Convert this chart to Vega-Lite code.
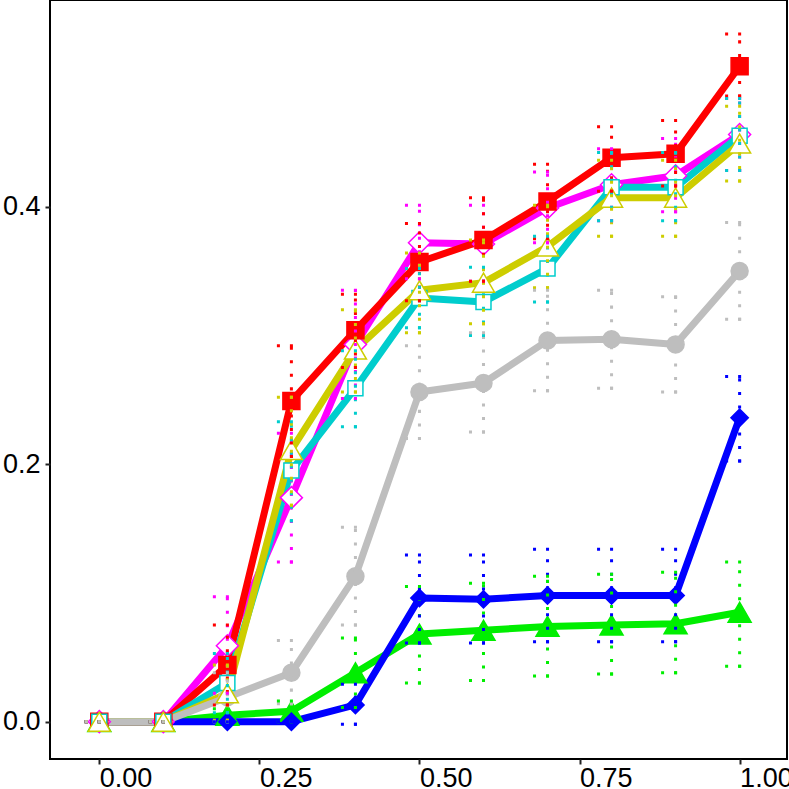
{
  "$schema": "https://vega.github.io/schema/vega-lite/v6.json",
  "description": "Seven series with dotted error bars, recreated from the reference.",
  "autosize": {"type": "none"},
  "width": 737,
  "height": 759,
  "padding": {"left": 50, "top": 0, "right": 2, "bottom": 30},
  "background": "white",
  "config": {
    "view": {"stroke": "black", "strokeWidth": 2},
    "axis": {
      "domain": false,
      "grid": false,
      "title": null,
      "labelFont": "Liberation Sans",
      "labelFontSize": 27,
      "labelColor": "black",
      "tickColor": "#222222",
      "tickSize": 5,
      "tickWidth": 2
    }
  },
  "data": {
    "values": [
      {"s": "green", "x": 0.0, "y": 0.0, "lo": 0.0, "hi": 0.0},
      {"s": "green", "x": 0.1, "y": 0.0, "lo": 0.0, "hi": 0.0},
      {"s": "green", "x": 0.2, "y": 0.005, "lo": 0.0, "hi": 0.010},
      {"s": "green", "x": 0.3, "y": 0.008, "lo": 0.0, "hi": 0.016},
      {"s": "green", "x": 0.4, "y": 0.038, "lo": 0.011, "hi": 0.065},
      {"s": "green", "x": 0.5, "y": 0.068, "lo": 0.030, "hi": 0.105},
      {"s": "green", "x": 0.6, "y": 0.071, "lo": 0.032, "hi": 0.1075},
      {"s": "green", "x": 0.7, "y": 0.074, "lo": 0.0355, "hi": 0.113},
      {"s": "green", "x": 0.8, "y": 0.075, "lo": 0.037, "hi": 0.1145},
      {"s": "green", "x": 0.9, "y": 0.076, "lo": 0.038, "hi": 0.116},
      {"s": "green", "x": 1.0, "y": 0.085, "lo": 0.043, "hi": 0.124},

      {"s": "blue", "x": 0.0, "y": 0.0, "lo": 0.0, "hi": 0.0},
      {"s": "blue", "x": 0.1, "y": 0.0, "lo": 0.0, "hi": 0.0},
      {"s": "blue", "x": 0.2, "y": 0.0, "lo": 0.0, "hi": 0.0},
      {"s": "blue", "x": 0.3, "y": 0.0, "lo": 0.0, "hi": 0.0},
      {"s": "blue", "x": 0.4, "y": 0.013, "lo": -0.002, "hi": 0.029},
      {"s": "blue", "x": 0.5, "y": 0.096, "lo": 0.061, "hi": 0.1295},
      {"s": "blue", "x": 0.6, "y": 0.095, "lo": 0.061, "hi": 0.1295},
      {"s": "blue", "x": 0.7, "y": 0.098, "lo": 0.062, "hi": 0.134},
      {"s": "blue", "x": 0.8, "y": 0.098, "lo": 0.062, "hi": 0.134},
      {"s": "blue", "x": 0.9, "y": 0.098, "lo": 0.062, "hi": 0.134},
      {"s": "blue", "x": 1.0, "y": 0.236, "lo": 0.2025, "hi": 0.268},

      {"s": "magenta", "x": 0.0, "y": 0.0, "lo": 0.0, "hi": 0.0},
      {"s": "magenta", "x": 0.1, "y": 0.0, "lo": 0.0, "hi": 0.0},
      {"s": "magenta", "x": 0.2, "y": 0.059, "lo": 0.022, "hi": 0.097},
      {"s": "magenta", "x": 0.3, "y": 0.174, "lo": 0.124, "hi": 0.224},
      {"s": "magenta", "x": 0.4, "y": 0.293, "lo": 0.251, "hi": 0.335},
      {"s": "magenta", "x": 0.5, "y": 0.372, "lo": 0.344, "hi": 0.401},
      {"s": "magenta", "x": 0.6, "y": 0.371, "lo": 0.342, "hi": 0.401},
      {"s": "magenta", "x": 0.7, "y": 0.399, "lo": 0.372, "hi": 0.427},
      {"s": "magenta", "x": 0.8, "y": 0.417, "lo": 0.389, "hi": 0.445},
      {"s": "magenta", "x": 0.9, "y": 0.424, "lo": 0.396, "hi": 0.453},
      {"s": "magenta", "x": 1.0, "y": 0.456, "lo": 0.428, "hi": 0.484},

      {"s": "red", "x": 0.0, "y": 0.0, "lo": 0.0, "hi": 0.0},
      {"s": "red", "x": 0.1, "y": 0.0, "lo": 0.0, "hi": 0.0},
      {"s": "red", "x": 0.2, "y": 0.044, "lo": 0.013, "hi": 0.075},
      {"s": "red", "x": 0.3, "y": 0.249, "lo": 0.206, "hi": 0.292},
      {"s": "red", "x": 0.4, "y": 0.304, "lo": 0.275, "hi": 0.332},
      {"s": "red", "x": 0.5, "y": 0.357, "lo": 0.327, "hi": 0.387},
      {"s": "red", "x": 0.6, "y": 0.374, "lo": 0.342, "hi": 0.407},
      {"s": "red", "x": 0.7, "y": 0.404, "lo": 0.375, "hi": 0.433},
      {"s": "red", "x": 0.8, "y": 0.438, "lo": 0.412, "hi": 0.462},
      {"s": "red", "x": 0.9, "y": 0.441, "lo": 0.416, "hi": 0.467},
      {"s": "red", "x": 1.0, "y": 0.509, "lo": 0.486, "hi": 0.534},

      {"s": "cyan", "x": 0.0, "y": 0.0, "lo": 0.0, "hi": 0.0},
      {"s": "cyan", "x": 0.1, "y": 0.0, "lo": 0.0, "hi": 0.0},
      {"s": "cyan", "x": 0.2, "y": 0.030, "lo": 0.007, "hi": 0.053},
      {"s": "cyan", "x": 0.3, "y": 0.195, "lo": 0.156, "hi": 0.233},
      {"s": "cyan", "x": 0.4, "y": 0.259, "lo": 0.229, "hi": 0.288},
      {"s": "cyan", "x": 0.5, "y": 0.329, "lo": 0.306, "hi": 0.352},
      {"s": "cyan", "x": 0.6, "y": 0.326, "lo": 0.300, "hi": 0.353},
      {"s": "cyan", "x": 0.7, "y": 0.352, "lo": 0.326, "hi": 0.377},
      {"s": "cyan", "x": 0.8, "y": 0.415, "lo": 0.389, "hi": 0.442},
      {"s": "cyan", "x": 0.9, "y": 0.415, "lo": 0.389, "hi": 0.442},
      {"s": "cyan", "x": 1.0, "y": 0.455, "lo": 0.428, "hi": 0.484},

      {"s": "yellow", "x": 0.0, "y": 0.0, "lo": 0.0, "hi": 0.0},
      {"s": "yellow", "x": 0.1, "y": 0.0, "lo": 0.0, "hi": 0.0},
      {"s": "yellow", "x": 0.2, "y": 0.022, "lo": 0.001, "hi": 0.044},
      {"s": "yellow", "x": 0.3, "y": 0.211, "lo": 0.168, "hi": 0.252},
      {"s": "yellow", "x": 0.4, "y": 0.289, "lo": 0.256, "hi": 0.320},
      {"s": "yellow", "x": 0.5, "y": 0.335, "lo": 0.302, "hi": 0.364},
      {"s": "yellow", "x": 0.6, "y": 0.341, "lo": 0.309, "hi": 0.374},
      {"s": "yellow", "x": 0.7, "y": 0.369, "lo": 0.337, "hi": 0.401},
      {"s": "yellow", "x": 0.8, "y": 0.407, "lo": 0.377, "hi": 0.436},
      {"s": "yellow", "x": 0.9, "y": 0.407, "lo": 0.377, "hi": 0.436},
      {"s": "yellow", "x": 1.0, "y": 0.449, "lo": 0.420, "hi": 0.478},

      {"s": "gray", "x": 0.0, "y": 0.0, "lo": 0.0, "hi": 0.0},
      {"s": "gray", "x": 0.1, "y": 0.0, "lo": 0.0, "hi": 0.0},
      {"s": "gray", "x": 0.2, "y": 0.019, "lo": 0.0, "hi": 0.038},
      {"s": "gray", "x": 0.3, "y": 0.038, "lo": 0.014, "hi": 0.063},
      {"s": "gray", "x": 0.4, "y": 0.113, "lo": 0.075, "hi": 0.151},
      {"s": "gray", "x": 0.5, "y": 0.256, "lo": 0.220, "hi": 0.292},
      {"s": "gray", "x": 0.6, "y": 0.263, "lo": 0.225, "hi": 0.302},
      {"s": "gray", "x": 0.7, "y": 0.296, "lo": 0.257, "hi": 0.335},
      {"s": "gray", "x": 0.8, "y": 0.297, "lo": 0.259, "hi": 0.335},
      {"s": "gray", "x": 0.9, "y": 0.293, "lo": 0.256, "hi": 0.330},
      {"s": "gray", "x": 1.0, "y": 0.350, "lo": 0.3125, "hi": 0.3876}
    ]
  },
  "encoding": {
    "x": {
      "field": "x",
      "type": "quantitative",
      "scale": {"domain": [-0.077, 1.074], "nice": false, "zero": false},
      "axis": {"values": [0, 0.25, 0.5, 0.75, 1], "format": ".2f", "labelAlign": "left", "labelPadding": 1}
    },
    "stroke": {
      "field": "s",
      "type": "nominal",
      "scale": {
        "domain": ["gray", "green", "blue", "magenta", "yellow", "cyan", "red"],
        "range": ["#BEBEBE", "#00EE00", "#0000FF", "#FF00FF", "#CDCD00", "#00CDCD", "#FF0000"]
      },
      "legend": null
    },
    "fill": {
      "field": "s",
      "type": "nominal",
      "scale": {
        "domain": ["gray", "green", "blue", "magenta", "yellow", "cyan", "red"],
        "range": ["#BEBEBE", "#00EE00", "#0000FF", "#FFFFFF", "#FFFFFF", "#FFFFFF", "#FF0000"]
      },
      "legend": null
    },
    "shape": {
      "field": "s",
      "type": "nominal",
      "scale": {
        "domain": ["gray", "green", "blue", "magenta", "yellow", "cyan", "red"],
        "range": ["circle", "triangle-up", "diamond", "diamond", "triangle-up", "square", "square"]
      },
      "legend": null
    },
    "size": {
      "field": "s",
      "type": "nominal",
      "scale": {
        "type": "ordinal",
        "domain": ["gray", "green", "blue", "magenta", "yellow", "cyan", "red"],
        "range": [289, 529, 300, 484, 484, 225, 289]
      },
      "legend": null
    }
  },
  "layer": [
    {
      "mark": {"type": "line", "strokeWidth": 7, "strokeJoin": "round"},
      "encoding": {
        "y": {
          "field": "y",
          "type": "quantitative",
          "scale": {"domain": [-0.029, 0.5605], "nice": false, "zero": false},
          "axis": {"values": [0, 0.2, 0.4], "format": ".1f", "labelPadding": 5}
        },
        "fill": null,
        "shape": null,
        "size": null
      }
    },
    {
      "transform": [{"filter": "datum.s == 'gray'"}],
      "mark": {"type": "point", "filled": true, "strokeWidth": 1.5, "opacity": 1},
      "encoding": {"y": {"field": "y", "type": "quantitative"}}
    },
    {
      "transform": [{"filter": "datum.s != 'gray'"}],
      "mark": {"type": "point", "filled": true, "strokeWidth": 1.5, "opacity": 1},
      "encoding": {"y": {"field": "y", "type": "quantitative"}}
    },
    {
      "mark": {"type": "rule", "strokeWidth": 3, "strokeDash": [0.01, 13.5], "strokeCap": "square"},
      "encoding": {
        "y": {"field": "lo", "type": "quantitative"},
        "y2": {"field": "hi"},
        "fill": null,
        "shape": null,
        "size": null
      }
    },
    {
      "mark": {"type": "rule", "strokeWidth": 3, "strokeDash": [0.01, 13], "strokeCap": "square", "xOffset": -13, "x2Offset": 13},
      "encoding": {
        "x2": {"field": "x"},
        "y": {"field": "lo", "type": "quantitative"},
        "fill": null,
        "shape": null,
        "size": null
      }
    },
    {
      "mark": {"type": "rule", "strokeWidth": 3, "strokeDash": [0.01, 13], "strokeCap": "square", "xOffset": -13, "x2Offset": 13},
      "encoding": {
        "x2": {"field": "x"},
        "y": {"field": "hi", "type": "quantitative"},
        "fill": null,
        "shape": null,
        "size": null
      }
    }
  ]
}
